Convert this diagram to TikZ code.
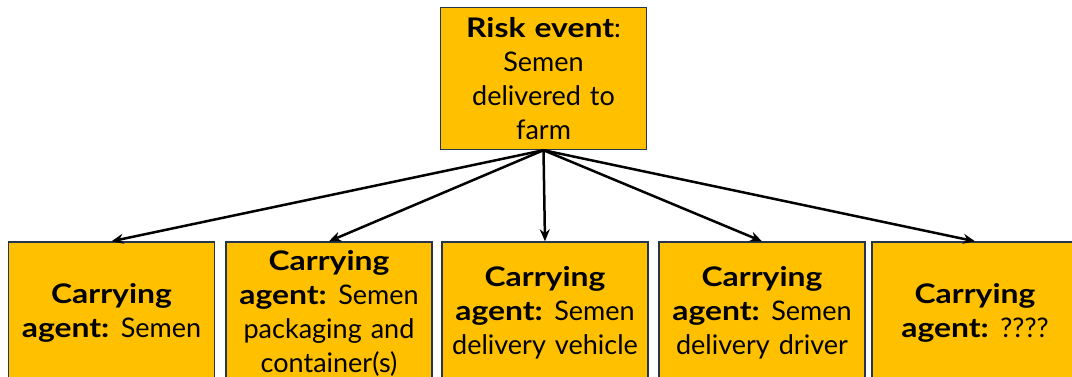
\documentclass[tikz,border=0pt]{standalone}
\usepackage{fontspec}
\setmainfont{Lato}[BoldFeatures={FakeStretch=1.18}]
\usetikzlibrary{arrows.meta}
\definecolor{boxfill}{HTML}{FFC000}
\definecolor{boxline}{HTML}{26344F}
\begin{document}
\begin{tikzpicture}[x=1pt,y=1pt,
  riskbox/.style={draw=boxline, line width=1.4pt, fill=boxfill,
    minimum width=206pt, minimum height=142pt, inner sep=0pt,
    align=center, text width=204pt,
    font=\fontsize{27}{34}\selectfont},
  link/.style={line width=2.5pt, -{Stealth[length=12pt,width=10pt]}}]
\useasboundingbox (0,0) rectangle (1072,377);
\node[riskbox] (risk) at (543.5,298.5)
  {\textbf{Risk event}:\\Semen\\delivered to\\farm};
\node[riskbox] (a1) at (111.5,64) {\textbf{Carrying}\\\textbf{agent:}\hspace{-2pt} Semen};
\node[riskbox] (a2) at (329,64) {\textbf{Carrying}\\\textbf{agent:}\hspace{-2pt} Semen\\packaging and\\container(s)};
\node[riskbox] (a3) at (545,64) {\textbf{Carrying}\\\textbf{agent:}\hspace{-2pt} Semen\\delivery vehicle};
\node[riskbox] (a4) at (762,64) {\textbf{Carrying}\\\textbf{agent:}\hspace{-2pt} Semen\\delivery driver};
\node[riskbox] (a5) at (975,64) {\textbf{Carrying}\\\textbf{agent:}\hspace{-2pt} ????};
\foreach \t in {a1,a2,a3,a4,a5}
  \draw[link] (risk.south) -- (\t.north);
\end{tikzpicture}
\end{document}
